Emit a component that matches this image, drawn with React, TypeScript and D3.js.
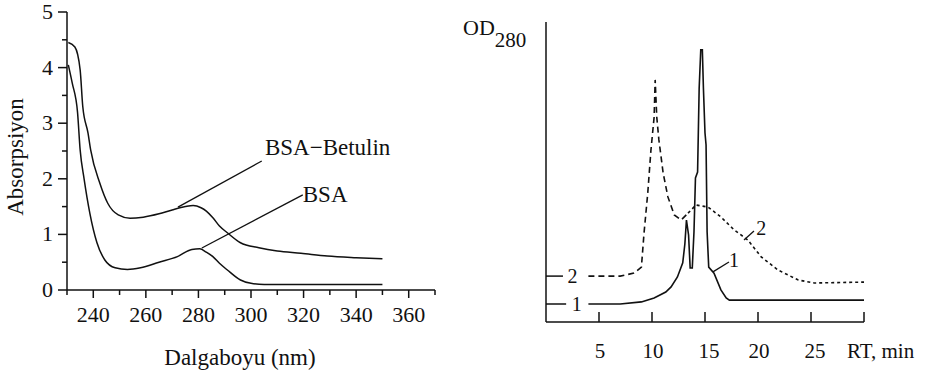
import * as d3 from 'd3'

// ---- left panel: absorption spectra ----
const NM_BSA_BET = [230.5, 233, 235, 236, 238, 239, 242.5, 245.5, 249.5, 254, 259, 265, 270, 275, 278, 281, 283, 285.5, 288, 291, 296, 303, 310, 319, 329, 340, 350]
const ABS_BSA_BET = [4.45, 4.37, 3.96, 3.3, 2.82, 2.52, 1.92, 1.56, 1.35, 1.29, 1.31, 1.37, 1.44, 1.5, 1.52, 1.48, 1.42, 1.3, 1.15, 1.03, 0.85, 0.76, 0.7, 0.66, 0.61, 0.58, 0.56]

const NM_BSA = [230.5, 232, 234, 235, 236.5, 238.7, 241.4, 244.4, 248.3, 253, 258, 265, 272, 277.5, 280.5, 283, 285.5, 288, 291, 296, 300, 305, 320, 350]
const ABS_BSA = [4.05, 3.72, 3.2, 2.52, 2.0, 1.38, 0.85, 0.54, 0.4, 0.37, 0.4, 0.5, 0.6, 0.73, 0.74, 0.68, 0.6, 0.48, 0.36, 0.18, 0.12, 0.1, 0.1, 0.1]

const NM_TICK_LABELS = [240, 260, 280, 300, 320, 340, 360]
const ABS_TICK_LABELS = [0, 1, 2, 3, 4, 5]

// ---- right panel: chromatograms ----
const RT_1 = [4, 7, 9, 10.2, 11.3, 11.8, 12.4, 12.9, 13.1, 13.25, 13.45, 13.6, 13.8, 13.96, 14.1, 14.3, 14.45, 14.6, 14.75, 14.85, 15.0, 15.1, 15.2, 15.35, 15.85, 16.5, 17.0, 17.3, 20, 30]
const OD_1 = [0.6, 0.6, 0.67, 0.8, 1.0, 1.17, 1.5, 1.97, 2.6, 3.4, 2.9, 1.8, 1.8, 3.0, 4.8, 5.0, 7.8, 9.07, 9.07, 7.8, 6.3, 5.9, 3.0, 1.83, 1.63, 1.07, 0.8, 0.73, 0.73, 0.73]

const RT_2 = [4, 7, 8.3, 9, 9.25, 9.6, 9.9, 10.2, 10.3, 10.45, 10.65, 11.05, 11.5, 12.1, 12.75, 13.4, 14.15, 15.3, 16.5, 17.75, 19.05, 20.3, 21.9, 23.8, 25.3, 30]
const OD_2 = [1.53, 1.53, 1.63, 1.83, 2.97, 4.3, 5.73, 6.83, 8.07, 6.83, 6.07, 4.97, 4.17, 3.57, 3.4, 3.63, 3.9, 3.83, 3.5, 3.07, 2.73, 2.17, 1.73, 1.4, 1.3, 1.33]
const RT_TICK_LABELS = [5, 10, 15, 20, 25]

const SERIF = "'Liberation Serif', 'DejaVu Serif', serif"
const INK = '#111'

export default function App() {
  // left scales
  const xL = d3.scaleLinear().domain([230, 370]).range([67, 435])
  const yL = d3.scaleLinear().domain([0, 5]).range([290, 12])
  const lineL = d3.line<[number, number]>().x(d => xL(d[0])).y(d => yL(d[1])).curve(d3.curveMonotoneX)
  const bet = NM_BSA_BET.map((v, i) => [v, ABS_BSA_BET[i]] as [number, number])
  const bsa = NM_BSA.map((v, i) => [v, ABS_BSA[i]] as [number, number])

  // right scales
  const xR = d3.scaleLinear().domain([0, 30]).range([546, 864])
  const yR = d3.scaleLinear().domain([0, 10]).range([322, 22])
  const lineR = d3.line<[number, number]>().x(d => xR(d[0])).y(d => yR(d[1]))
  const c1 = RT_1.map((v, i) => [v, OD_1[i]] as [number, number])
  const c2 = RT_2.map((v, i) => [v, OD_2[i]] as [number, number])
  // long dashes up to the dip, finer dots on the tail
  const c2a = c2.filter(d => d[0] <= 13.4)
  const c2b = c2.filter(d => d[0] >= 13.4)

  const xTicks = d3.range(230, 371, 10)
  const yTicks = d3.range(0, 5.01, 0.5)

  return (
    <svg width={934} height={376} style={{ position: 'absolute', left: 0, top: 0, background: '#fff', fontFamily: SERIF }}
      fill={INK}>
      {/* ---------- left panel ---------- */}
      <line x1={xL(230)} x2={xL(370)} y1={yL(0)} y2={yL(0)} stroke={INK} strokeWidth={1.5} />
      <line x1={xL(230)} x2={xL(230)} y1={yL(0)} y2={yL(5)} stroke={INK} strokeWidth={1.5} />
      {xTicks.map(t => (
        <line key={'xt' + t} x1={xL(t)} x2={xL(t)} y1={yL(0)} y2={yL(0) + (t % 20 === 0 ? 8 : 5)} stroke={INK} strokeWidth={1.5} />
      ))}
      {yTicks.map(t => (
        <line key={'yt' + t} x1={xL(230) - (t % 1 === 0 ? 9 : 5)} x2={xL(230)} y1={yL(t)} y2={yL(t)} stroke={INK} strokeWidth={1.5} />
      ))}
      {NM_TICK_LABELS.map(t => (
        <text key={'xl' + t} x={xL(t)} y={322} textAnchor="middle" fontSize={22}>{t}</text>
      ))}
      {ABS_TICK_LABELS.map(t => (
        <text key={'yl' + t} x={53} y={yL(t) + 7} textAnchor="end" fontSize={22}>{t}</text>
      ))}
      <text x={240} y={365} textAnchor="middle" fontSize={23}>Dalgaboyu (nm)</text>
      <text transform="translate(23,157) rotate(-90)" textAnchor="middle" fontSize={23}>Absorpsiyon</text>

      <path d={lineL(bet) ?? ''} fill="none" stroke={INK} strokeWidth={1.5} />
      <path d={lineL(bsa) ?? ''} fill="none" stroke={INK} strokeWidth={1.5} />

      <line x1={xL(272.2)} y1={yL(1.49)} x2={xL(304.1)} y2={yL(2.32)} stroke={INK} strokeWidth={1.3} />
      <line x1={xL(281.3)} y1={yL(0.755)} x2={xL(319.7)} y2={yL(1.71)} stroke={INK} strokeWidth={1.3} />
      <text x={xL(305.3)} y={yL(2.43)} fontSize={23}>BSA−Betulin</text>
      <text x={xL(319.7)} y={yL(1.58)} fontSize={23}>BSA</text>

      {/* ---------- right panel ---------- */}
      <line x1={xR(0)} x2={xR(30)} y1={yR(0)} y2={yR(0)} stroke={INK} strokeWidth={1.5} />
      <line x1={xR(0)} x2={xR(0)} y1={yR(0)} y2={yR(10)} stroke={INK} strokeWidth={1.5} />
      {d3.range(5, 31, 5).map(t => (
        <line key={'rt' + t} x1={xR(t)} x2={xR(t)} y1={yR(0)} y2={yR(0) - 10} stroke={INK} strokeWidth={1.5} />
      ))}
      {RT_TICK_LABELS.map(t => (
        <text key={'rl' + t} x={xR(t) + (t >= 15 && t !== 20 ? 4 : 1)} y={358} textAnchor="middle" fontSize={21}>{t}</text>
      ))}
      <text x={847} y={358} fontSize={21}>RT, min</text>
      <text x={463} y={35} fontSize={22}>OD<tspan dy={12} fontSize={21}>280</tspan></text>

      <path d={lineR(c1) ?? ''} fill="none" stroke={INK} strokeWidth={1.6} />
      <path d={lineR(c2a) ?? ''} fill="none" stroke={INK} strokeWidth={1.6} strokeDasharray="6,4" />
      <path d={lineR(c2b) ?? ''} fill="none" stroke={INK} strokeWidth={1.6} strokeDasharray="3,3" />

      {/* curve labels at the axis */}
      <line x1={xR(0)} x2={xR(1.6)} y1={yR(OD_2[0])} y2={yR(OD_2[0])} stroke={INK} strokeWidth={1.5} />
      <text x={xR(2.5)} y={yR(OD_2[0]) + 7} textAnchor="middle" fontSize={20}>2</text>
      <line x1={xR(0)} x2={xR(1.9)} y1={yR(OD_1[0])} y2={yR(OD_1[0])} stroke={INK} strokeWidth={1.5} />
      <text x={xR(2.9)} y={yR(OD_1[0]) + 7} textAnchor="middle" fontSize={20}>1</text>

      {/* curve labels with leaders */}
      <line x1={xR(18.68)} y1={yR(2.73)} x2={xR(19.62)} y2={yR(3.03)} stroke={INK} strokeWidth={1.3} />
      <text x={xR(20.3)} y={yR(2.9)} textAnchor="middle" fontSize={20}>2</text>
      <line x1={xR(15.75)} y1={yR(1.67)} x2={xR(17.26)} y2={yR(2.0)} stroke={INK} strokeWidth={1.3} />
      <text x={xR(17.74)} y={yR(1.83)} textAnchor="middle" fontSize={20}>1</text>
    </svg>
  )
}
